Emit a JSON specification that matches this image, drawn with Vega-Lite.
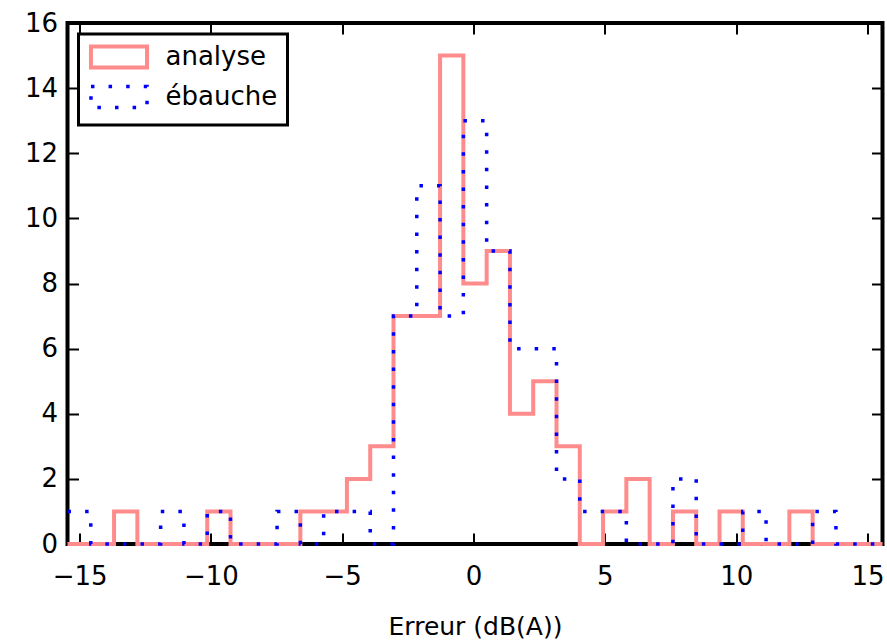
{
  "$schema": "https://vega.github.io/schema/vega-lite/v6.json",
  "width": 815,
  "height": 521,
  "autosize": {"type": "none"},
  "padding": {"left": 67.5, "top": 23, "right": 4.5, "bottom": 97},
  "background": "white",
  "config": {
    "font": "DejaVu Sans",
    "view": {"stroke": "#000", "strokeWidth": 4},
    "axis": {
      "domain": false,
      "grid": false,
      "labelFontSize": 26,
      "labelColor": "#000",
      "tickColor": "#000",
      "tickWidth": 2,
      "tickSize": -11,
      "titleFontSize": 25,
      "titleFontWeight": "normal",
      "titleColor": "#000"
    },
    "legend": {"strokeWidth": 3}
  },
  "datasets": {
    "hist": [
      {"erreur": -15.46, "effectif": 0, "serie": "analyse"},
      {"erreur": -14.573, "effectif": 0, "serie": "analyse"},
      {"erreur": -13.687, "effectif": 1, "serie": "analyse"},
      {"erreur": -12.8, "effectif": 0, "serie": "analyse"},
      {"erreur": -11.914, "effectif": 0, "serie": "analyse"},
      {"erreur": -11.027, "effectif": 0, "serie": "analyse"},
      {"erreur": -10.14, "effectif": 1, "serie": "analyse"},
      {"erreur": -9.254, "effectif": 0, "serie": "analyse"},
      {"erreur": -8.367, "effectif": 0, "serie": "analyse"},
      {"erreur": -7.481, "effectif": 0, "serie": "analyse"},
      {"erreur": -6.594, "effectif": 1, "serie": "analyse"},
      {"erreur": -5.707, "effectif": 1, "serie": "analyse"},
      {"erreur": -4.821, "effectif": 2, "serie": "analyse"},
      {"erreur": -3.934, "effectif": 3, "serie": "analyse"},
      {"erreur": -3.048, "effectif": 7, "serie": "analyse"},
      {"erreur": -2.161, "effectif": 7, "serie": "analyse"},
      {"erreur": -1.274, "effectif": 15, "serie": "analyse"},
      {"erreur": -0.388, "effectif": 8, "serie": "analyse"},
      {"erreur": 0.499, "effectif": 9, "serie": "analyse"},
      {"erreur": 1.386, "effectif": 4, "serie": "analyse"},
      {"erreur": 2.272, "effectif": 5, "serie": "analyse"},
      {"erreur": 3.159, "effectif": 3, "serie": "analyse"},
      {"erreur": 4.045, "effectif": 0, "serie": "analyse"},
      {"erreur": 4.932, "effectif": 1, "serie": "analyse"},
      {"erreur": 5.818, "effectif": 2, "serie": "analyse"},
      {"erreur": 6.705, "effectif": 0, "serie": "analyse"},
      {"erreur": 7.592, "effectif": 1, "serie": "analyse"},
      {"erreur": 8.478, "effectif": 0, "serie": "analyse"},
      {"erreur": 9.365, "effectif": 1, "serie": "analyse"},
      {"erreur": 10.251, "effectif": 0, "serie": "analyse"},
      {"erreur": 11.138, "effectif": 0, "serie": "analyse"},
      {"erreur": 12.025, "effectif": 1, "serie": "analyse"},
      {"erreur": 12.911, "effectif": 0, "serie": "analyse"},
      {"erreur": 13.798, "effectif": 0, "serie": "analyse"},
      {"erreur": 14.684, "effectif": 0, "serie": "analyse"},
      {"erreur": 15.571, "effectif": 0, "serie": "analyse"},
      {"erreur": -15.46, "effectif": 1, "serie": "ébauche"},
      {"erreur": -14.573, "effectif": 0, "serie": "ébauche"},
      {"erreur": -13.687, "effectif": 0, "serie": "ébauche"},
      {"erreur": -12.8, "effectif": 0, "serie": "ébauche"},
      {"erreur": -11.914, "effectif": 1, "serie": "ébauche"},
      {"erreur": -11.027, "effectif": 0, "serie": "ébauche"},
      {"erreur": -10.14, "effectif": 1, "serie": "ébauche"},
      {"erreur": -9.254, "effectif": 0, "serie": "ébauche"},
      {"erreur": -8.367, "effectif": 0, "serie": "ébauche"},
      {"erreur": -7.481, "effectif": 1, "serie": "ébauche"},
      {"erreur": -6.594, "effectif": 0, "serie": "ébauche"},
      {"erreur": -5.707, "effectif": 1, "serie": "ébauche"},
      {"erreur": -4.821, "effectif": 1, "serie": "ébauche"},
      {"erreur": -3.934, "effectif": 0, "serie": "ébauche"},
      {"erreur": -3.048, "effectif": 7, "serie": "ébauche"},
      {"erreur": -2.161, "effectif": 11, "serie": "ébauche"},
      {"erreur": -1.274, "effectif": 7, "serie": "ébauche"},
      {"erreur": -0.388, "effectif": 13, "serie": "ébauche"},
      {"erreur": 0.499, "effectif": 9, "serie": "ébauche"},
      {"erreur": 1.386, "effectif": 6, "serie": "ébauche"},
      {"erreur": 2.272, "effectif": 6, "serie": "ébauche"},
      {"erreur": 3.159, "effectif": 2, "serie": "ébauche"},
      {"erreur": 4.045, "effectif": 1, "serie": "ébauche"},
      {"erreur": 4.932, "effectif": 1, "serie": "ébauche"},
      {"erreur": 5.818, "effectif": 0, "serie": "ébauche"},
      {"erreur": 6.705, "effectif": 0, "serie": "ébauche"},
      {"erreur": 7.592, "effectif": 2, "serie": "ébauche"},
      {"erreur": 8.478, "effectif": 0, "serie": "ébauche"},
      {"erreur": 9.365, "effectif": 0, "serie": "ébauche"},
      {"erreur": 10.251, "effectif": 1, "serie": "ébauche"},
      {"erreur": 11.138, "effectif": 0, "serie": "ébauche"},
      {"erreur": 12.025, "effectif": 0, "serie": "ébauche"},
      {"erreur": 12.911, "effectif": 1, "serie": "ébauche"},
      {"erreur": 13.798, "effectif": 0, "serie": "ébauche"},
      {"erreur": 14.684, "effectif": 0, "serie": "ébauche"},
      {"erreur": 15.571, "effectif": 0, "serie": "ébauche"}
    ]
  },
  "data": {"name": "hist"},
  "layer": [
    {
      "mark": {"type": "line", "interpolate": "step-after"},
      "encoding": {
        "x": {
          "field": "erreur",
          "type": "quantitative",
          "scale": {"domain": [-15.46, 15.571], "nice": false, "zero": false},
          "axis": {
            "orient": "bottom",
            "values": [-15, -10, -5, 0, 5, 10, 15],
            "title": "Erreur (dB(A))",
            "labelPadding": 30,
            "titlePadding": 25
          }
        },
        "y": {
          "field": "effectif",
          "type": "quantitative",
          "scale": {"domain": [0, 16], "nice": false},
          "axis": {
            "orient": "left",
            "values": [0, 2, 4, 6, 8, 10, 12, 14, 16],
            "title": null,
            "labelPadding": 21
          }
        },
        "color": {
          "field": "serie",
          "type": "nominal",
          "scale": {"domain": ["analyse", "ébauche"], "range": ["#ff8c8c", "#0000ff"]},
          "legend": {
            "orient": "top-left",
            "offset": 11,
            "title": null,
            "symbolType": "M-2.67,-1H2.67V1H-2.67Z",
            "symbolSize": 441,
            "symbolFillColor": "transparent",
            "symbolOffset": 17.5,
            "labelFontSize": 26,
            "labelColor": "#000",
            "labelOffset": 33.5,
            "strokeColor": "#000",
            "fillColor": "#fff",
            "padding": 10,
            "rowPadding": 3
          }
        },
        "strokeDash": {
          "field": "serie",
          "type": "nominal",
          "scale": {"domain": ["analyse", "ébauche"], "range": [[1, 0], [3.5, 14.1]]},
          "legend": {
            "orient": "top-left",
            "offset": 11,
            "title": null,
            "symbolType": "M-2.67,-1H2.67V1H-2.67Z",
            "symbolSize": 441,
            "symbolFillColor": "transparent",
            "symbolOffset": 17.5,
            "labelFontSize": 26,
            "labelColor": "#000",
            "labelOffset": 33.5,
            "strokeColor": "#000",
            "fillColor": "#fff",
            "padding": 10,
            "rowPadding": 3
          }
        },
        "strokeWidth": {
          "field": "serie",
          "type": "nominal",
          "scale": {"domain": ["analyse", "ébauche"], "range": [4, 3.5]},
          "legend": null
        }
      }
    },
    {
      "mark": {"type": "point", "opacity": 0},
      "encoding": {
        "x": {
          "field": "erreur",
          "type": "quantitative",
          "axis": {"orient": "top", "values": [-15, -10, -5, 0, 5, 10, 15], "labels": false, "title": null}
        },
        "y": {
          "field": "effectif",
          "type": "quantitative",
          "axis": {"orient": "right", "values": [0, 2, 4, 6, 8, 10, 12, 14, 16], "labels": false, "title": null}
        }
      }
    }
  ],
  "resolve": {"axis": {"x": "independent", "y": "independent"}}
}
